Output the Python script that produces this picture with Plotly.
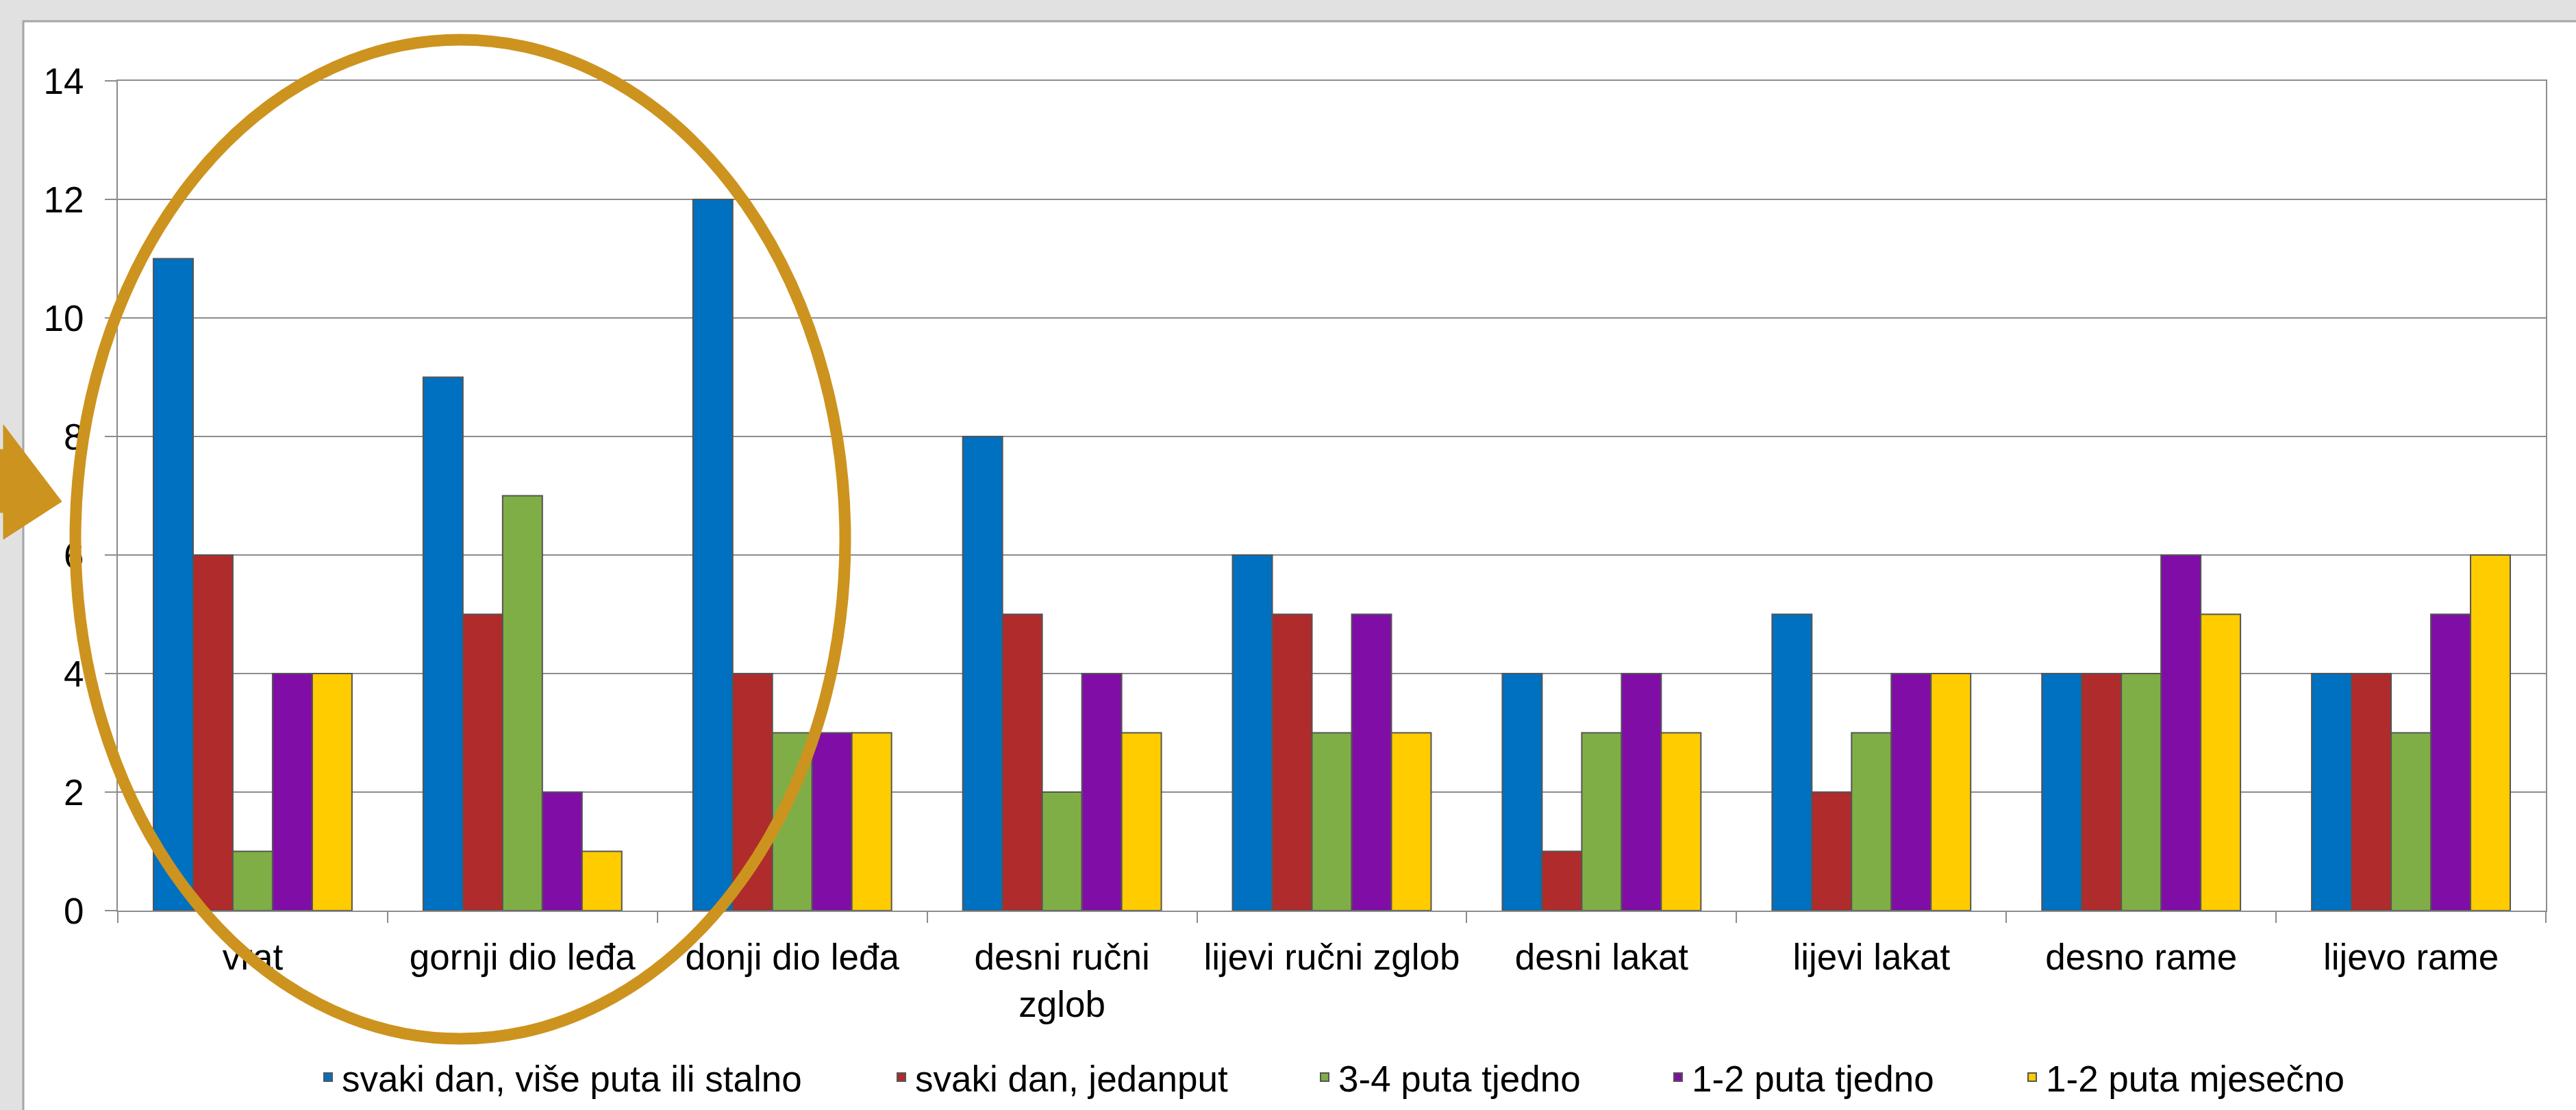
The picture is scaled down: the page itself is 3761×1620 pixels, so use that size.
import plotly.graph_objects as go

categories = ["vrat", "gornji dio leđa", "donji dio leđa", "desni ručni<br>zglob",
              "lijevi ručni zglob", "desni lakat", "lijevi lakat", "desno rame", "lijevo rame"]
series_names = ["svaki dan, više puta ili stalno", "svaki dan, jedanput",
                "3-4 puta tjedno", "1-2 puta tjedno", "1-2 puta mjesečno"]
svaki_dan_vise = [11, 9, 12, 8, 6, 4, 5, 4, 4]
svaki_dan_jednom = [6, 5, 4, 5, 5, 1, 2, 4, 4]
tri_cetiri_tjedno = [1, 7, 3, 2, 3, 3, 3, 4, 3]
jedan_dva_tjedno = [4, 2, 3, 4, 5, 4, 4, 6, 5]
jedan_dva_mjesecno = [4, 1, 3, 3, 3, 3, 4, 5, 6]
series_values = [svaki_dan_vise, svaki_dan_jednom, tri_cetiri_tjedno,
                 jedan_dva_tjedno, jedan_dva_mjesecno]
colors = ["#0070C0", "#B02B2B", "#80AE46", "#800EA6", "#FFCC00"]
y_ticks = [0, 2, 4, 6, 8, 10, 12, 14]

W, H = 3761, 1620
L, R, T, B = 172, 3717, 118, 1329
PW, PH = R - L, B - T


def px(x):
    return (x - L) / PW


def py(y):
    return (B - y) / PH


FONT = "Arial, Liberation Sans, sans-serif"
fig = go.Figure()

legend_x_px = [459, 1296, 1914, 2430, 2947]
legend_names = ["legend", "legend2", "legend3", "legend4", "legend5"]
for i, (name, vals, col) in enumerate(zip(series_names, series_values, colors)):
    fig.add_trace(go.Bar(
        x=categories, y=vals, name=name, showlegend=True,
        marker=dict(color=col, line=dict(color="#555555", width=2)),
        legend=legend_names[i],
    ))

layout_legends = {}
for i, ln in enumerate(legend_names):
    layout_legends[ln] = dict(
        x=px(legend_x_px[i]), y=py(1572), xanchor="left", yanchor="middle",
        xref="paper", yref="paper", orientation="h", visible=True,
        font=dict(family=FONT, size=53, color="#000000"),
        bgcolor="rgba(0,0,0,0)", borderwidth=0,
    )

shapes = [
    # white slide panel
    dict(type="rect", xref="paper", yref="paper", layer="below",
         x0=px(34), x1=px(3770), y0=py(31), y1=py(1630),
         fillcolor="#ffffff", line=dict(color="#a6a6a6", width=3)),
    # ellipse highlight
    dict(type="circle", xref="paper", yref="paper", layer="above",
         x0=px(110), x1=px(1234), y0=py(1516), y1=py(58),
         line=dict(color="#CD931F", width=17)),
    # arrow
    dict(type="path", xref="paper", yref="paper", layer="above",
         path=("M {:.5f},{:.5f} L {:.5f},{:.5f} L {:.5f},{:.5f} L {:.5f},{:.5f} "
               "L {:.5f},{:.5f} L {:.5f},{:.5f} L {:.5f},{:.5f} Z").format(
             px(-5), py(656), px(5), py(656), px(5), py(620), px(90), py(732),
             px(5), py(787), px(5), py(748), px(-5), py(748)),
         fillcolor="#CD931F", line=dict(color="#CD931F", width=1)),
]

fig.update_layout(
    width=W, height=H,
    margin=dict(l=L, r=W - R, t=T, b=H - B, autoexpand=False),
    paper_bgcolor="#e1e1e1", plot_bgcolor="#ffffff",
    barmode="group", bargap=0.264, bargroupgap=0,
    font=dict(family=FONT, size=53, color="#000000"),
    showlegend=True,
    shapes=shapes,
    **layout_legends,
)
fig.update_xaxes(
    showline=True, linecolor="#8c8c8c", linewidth=2, mirror=True,
    ticks="outside", tickson="boundaries", ticklen=16, tickcolor="#8c8c8c", tickwidth=2,
    showgrid=False, tickfont=dict(family=FONT, size=53, color="#000000"),
    ticklabelstandoff=20,
)
fig.update_yaxes(
    range=[0, 14], tickvals=y_ticks, showgrid=True, gridcolor="#8c8c8c", gridwidth=2,
    showline=True, linecolor="#8c8c8c", linewidth=2, mirror=True,
    ticks="outside", ticklen=17, tickcolor="#8c8c8c", tickwidth=2,
    tickfont=dict(family=FONT, size=53, color="#000000"), zeroline=False,
    ticklabelstandoff=20,
)

fig.write_html(
    "out.html",
    config={"displayModeBar": False},
    post_script="document.body.style.margin='0px';document.body.style.overflow='hidden';",
)
